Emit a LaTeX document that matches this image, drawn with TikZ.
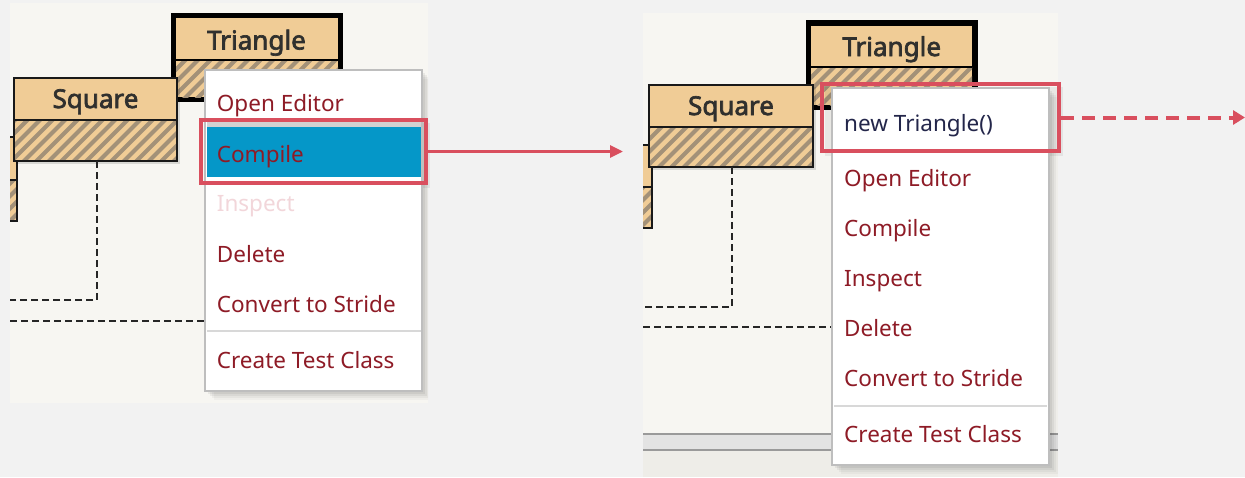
\documentclass[tikz,border=0pt]{standalone}
\usepackage{fontspec}
\setmainfont{Noto Sans}
\newfontfamily\titlefont[FakeBold=2.6]{Noto Sans}
\usetikzlibrary{arrows.meta}
\definecolor{outerbg}{HTML}{F2F2F2}
\definecolor{panelbg}{HTML}{F7F6F2}
\definecolor{panelbot}{HTML}{EEEDE8}
\definecolor{tanfill}{HTML}{F0CC96}
\definecolor{hatchc}{HTML}{A39178}
\definecolor{menured}{HTML}{8E1B26}
\definecolor{faded}{HTML}{F2D6DA}
\definecolor{selblue}{HTML}{0597C8}
\definecolor{hilite}{HTML}{D94F5E}
\definecolor{navy}{HTML}{23264A}
\definecolor{titlegrey}{HTML}{30302E}
\definecolor{menuborder}{HTML}{BEBEBE}
\definecolor{sepc}{HTML}{D8D8D8}
\definecolor{scrollline}{HTML}{9A9A9A}
\definecolor{scrollband}{HTML}{E3E3E3}

\newcommand\hatchrect[4]{%
  \begin{scope}
    \clip (#1,#2) rectangle (#3,#4);
    \fill[tanfill] (#1,#2) rectangle (#3,#4);
    \foreach \i in {0,...,26} {
      \draw[hatchc, line width=4] ({#1-120+12.5*\i},{#4+5}) -- ++({#4-#2+10},{-(#4-#2+10)});
    }
  \end{scope}}

\tikzset{
  menuitem/.style={anchor=base west, inner sep=0pt, text=menured, font=\fontsize{22.5}{27}\selectfont},
  classtitle/.style={anchor=base, inner sep=0pt, text=titlegrey, font=\fontsize{26}{31}\selectfont\titlefont},
  dashline/.style={black!85, line width=1.6, dash pattern=on 7 off 4},
  hlbox/.style={draw=hilite, line width=4, inner sep=0pt, fill=none},
  classborder/.style={draw=black!90, line width=1.8},
  menubox/.style={fill=white, draw=menuborder, line width=1.5},
  sepline/.style={sepc, line width=2}
}

\begin{document}
\begin{tikzpicture}[x=1pt, y=-1pt]
\useasboundingbox (0,0) rectangle (1245,477);
\fill[outerbg] (0,0) rectangle (1245,477);

%%%%%%%%%%%%%%%% LEFT PANEL
\fill[panelbg] (10,3) rectangle (428,403);
\begin{scope}
\clip (10,3) rectangle (428,403);
% Triangle (selected, thick border)
\fill[black] (171,13) rectangle (343,102);
\hatchrect{176}{60}{338}{97}
\fill[tanfill] (176,18) rectangle (338,60);
\draw[black, line width=1.5] (176,60) -- (338,60);
\node[classtitle] (triL) at (256.5,49.5) {Triangle};
% partial class at left edge
\fill[tanfill] (0,137) rectangle (17,180);
\hatchrect{0}{180}{17}{221}
\draw[classborder] (0,137) rectangle (17,221);
\draw[classborder] (0,180) -- (17,180);
% Square
\fill[black, opacity=0.12] (16,80) rectangle (180,164);
\fill[tanfill] (14,78) rectangle (177,120);
\hatchrect{14}{120}{177}{161}
\draw[classborder] (14,78) rectangle (177,161);
\draw[classborder] (14,120) -- (177,120);
\node[classtitle] (sqL) at (95.5,108) {Square};
% dashed dependencies
\coordinate (sqLb) at (97,161);
\coordinate (dL1) at (97,300);
\coordinate (dL2) at (10,300);
\coordinate (dL3) at (10,321);
\coordinate (dL4) at (205,321);
\draw[dashline] (sqLb) -- (dL1) -- (dL2);
\draw[dashline] (dL3) -- (dL4);
% menu shadow
\foreach \o/\a in {9/0.03,7/0.04,5/0.05,3/0.06} {
  \fill[black, opacity=\a] (205+\o,70+\o) rectangle (422+\o,391+\o);
}
\end{scope}
\fill[black, opacity=0.06] (204,123) rectangle (430,188);
\node[menubox, minimum width=217, minimum height=321, inner sep=0pt] (menuL) at (313.5,230.5) {};
\fill[black!18] (207,121) rectangle (421,128);
\fill[selblue] (207,127) rectangle (421,177);
\node[menuitem] (oeL) at (216.7,111.5) {Open Editor};
\node[menuitem] (coL) at (216.7,162) {Compile};
\node[menuitem, text=faded] (inL) at (216.7,211) {Inspect};
\node[menuitem] (deL) at (216.7,262) {Delete};
\node[menuitem] (cvL) at (216.7,312) {Convert to Stride};
\draw[sepline] (207,331) -- (421,331);
\node[menuitem] (ctL) at (216.7,368) {Create Test Class};
% highlight
\node[hlbox, minimum width=225, minimum height=63] (compileHL) at (313.5,151.5) {};
\coordinate (arrowEnd) at (623,151.5);
\draw[hilite, line width=3, -{Triangle[length=13pt, width=12pt]}] (compileHL.east) -- (arrowEnd);

%%%%%%%%%%%%%%%% RIGHT PANEL
\fill[panelbg] (643,13) rectangle (1058,477);
\begin{scope}
\clip (643,13) rectangle (1058,477);
\fill[panelbot] (643,450) rectangle (1058,477);
\fill[scrollband] (643,434) rectangle (1058,450);
\draw[scrollline, line width=2] (643,434) -- (1058,434);
\draw[scrollline, line width=2] (643,450) -- (1058,450);
% Triangle
\fill[black] (806,20) rectangle (978,110);
\hatchrect{811}{67}{972}{105}
\fill[tanfill] (811,26) rectangle (972,67);
\draw[black, line width=1.5] (811,67) -- (972,67);
\node[classtitle] (triR) at (891.7,56) {Triangle};
% partial class
\fill[tanfill] (630,145) rectangle (652,187);
\hatchrect{630}{187}{652}{228}
\draw[classborder] (630,145) rectangle (652,228);
\draw[classborder] (630,187) -- (652,187);
% Square
\fill[black, opacity=0.12] (651,87) rectangle (816,170);
\fill[tanfill] (649,85) rectangle (813,127);
\hatchrect{649}{127}{813}{167}
\draw[classborder] (649,85) rectangle (813,167);
\draw[classborder] (649,127) -- (813,127);
\node[classtitle] (sqR) at (731,115) {Square};
% dashed dependencies
\coordinate (sqRb) at (732,167);
\coordinate (dR1) at (732,307);
\coordinate (dR2) at (643,307);
\coordinate (dR3) at (643,327);
\coordinate (dR4) at (832,327);
\draw[dashline] (sqRb) -- (dR1) -- (dR2);
\draw[dashline] (dR3) -- (dR4);
% menu shadow
\foreach \o/\a in {9/0.03,7/0.04,5/0.05,3/0.06} {
  \fill[black, opacity=\a] (832+\o,88+\o) rectangle (1049+\o,465+\o);
}
\end{scope}
\fill[black, opacity=0.06] (825,87) rectangle (1063,156);
\node[menubox, minimum width=217, minimum height=377, inner sep=0pt] (menuR) at (940.5,276.5) {};
\node[menuitem, text=navy] (ntR) at (844,131) {new Triangle()};
\node[menuitem] (oeR) at (844,186.7) {Open Editor};
\node[menuitem] (coR) at (844,236.7) {Compile};
\node[menuitem] (inR) at (844,286.7) {Inspect};
\node[menuitem] (deR) at (844,336.7) {Delete};
\node[menuitem] (cvR) at (844,386.7) {Convert to Stride};
\draw[sepline] (834,406) -- (1047,406);
\node[menuitem] (ctR) at (844,442.7) {Create Test Class};
% highlight
\node[hlbox, minimum width=237, minimum height=67] (newHL) at (940.5,117.5) {};
\coordinate (dashEnd) at (1245,117.5);
\draw[hilite, line width=4, dash pattern=on 13 off 8, -{Triangle[length=12pt, width=14pt]}] (newHL.east) -- (dashEnd);
\end{tikzpicture}
\end{document}
